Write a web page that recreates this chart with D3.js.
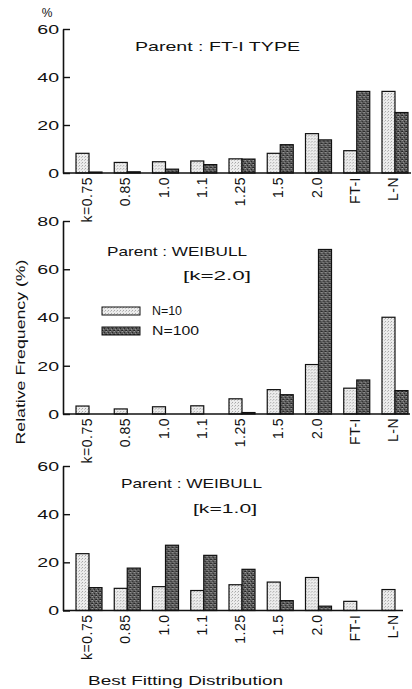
<!DOCTYPE html>
<html>
<head>
<meta charset="utf-8">
<script src="https://cdn.jsdelivr.net/npm/d3@7"></script>
<style>
  body { margin: 0; background: #fff; }
  svg text { font-family: "Liberation Sans", Arial, sans-serif; fill: #111; }
</style>
</head>
<body>
<script>
// chart data
const categories = ["k=0.75", "0.85", "1.0", "1.1", "1.25", "1.5", "2.0", "FT-I", "L-N"];
const seriesNames = ["N=10", "N=100"];
// ----------
// parent : FT-I type
const ftN10 = [8.2, 4.4, 4.7, 5.0, 5.9, 8.2, 16.4, 9.3, 34.0];
const ftN100 = [0.4, 0.5, 1.6, 3.5, 5.8, 11.8, 13.8, 34.0, 25.2];
// parent : weibull k=2.0
const wb2N10 = [3.3, 2.1, 3.0, 3.4, 6.3, 10.1, 20.5, 10.7, 40.1];
const wb2N100 = [0, 0, 0, 0, 0.6, 8.0, 68.2, 14.1, 9.7];
// parent : weibull k=1.0
const wb1N10 = [23.6, 9.2, 9.9, 8.3, 10.7, 11.8, 13.7, 3.8, 8.7];
const wb1N100 = [9.5, 17.6, 27.1, 22.9, 17.1, 4.1, 1.8, 0, 0];
// ----------
const ticks60 = [0, 20, 40, 60];
const ticks80 = [0, 20, 40, 60, 80];
// ----------

const w = 412;
const h = 689;
const axisX = 63;
const sx = 1.45; // scan is stretched sideways

const svg = d3
  .select("body")
  .append("svg")
  .attr("width", w)
  .attr("height", h);

// fill patterns (stippled greys)
const defs = svg.append("defs");

const light = defs
  .append("pattern")
  .attr("id", "light")
  .attr("patternUnits", "userSpaceOnUse")
  .attr("width", 3)
  .attr("height", 3);
light.append("rect").attr("width", 3).attr("height", 3).attr("fill", "#ececec");
light.append("rect").attr("x", 0).attr("y", 0).attr("width", 1).attr("height", 1).attr("fill", "#a8a8a8");
light.append("rect").attr("x", 2).attr("y", 1).attr("width", 1).attr("height", 1).attr("fill", "#c4c4c4");

const dark = defs
  .append("pattern")
  .attr("id", "dark")
  .attr("patternUnits", "userSpaceOnUse")
  .attr("width", 4)
  .attr("height", 4);
dark.append("rect").attr("width", 4).attr("height", 4).attr("fill", "#5c5c5c");
[[0, 0, "#9a9a9a"], [2, 1, "#2a2a2a"], [1, 2, "#8c8c8c"], [3, 3, "#333"], [3, 0, "#777"], [0, 3, "#222"]].forEach(
  ([x, y, c]) => {
    dark.append("rect").attr("x", x).attr("y", y).attr("width", 1).attr("height", 1).attr("fill", c);
  }
);
const fills = ["url(#light)", "url(#dark)"];
// ----------

// x scales (same for every panel)
const x0 = d3.scaleBand().domain(categories).range([76, 408]).paddingInner(0.32);
const x1 = d3.scaleBand().domain(seriesNames).range([0, x0.bandwidth()]);
// ----------

const panels = [
  {
    vals: [ftN10, ftN100],
    ticks: ticks60,
    y0: 173,
    yTop: 29,
    baseEnd: 411,
    titles: [{ t: "Parent : FT-I TYPE", x: 135, y: 51, len: 165 }],
  },
  {
    vals: [wb2N10, wb2N100],
    ticks: ticks80,
    y0: 414,
    yTop: 221,
    baseEnd: 410,
    titles: [
      { t: "Parent : WEIBULL", x: 107, y: 256, len: 140 },
      { t: "[k=2.0]", x: 183, y: 280, len: 68 },
    ],
  },
  {
    vals: [wb1N10, wb1N100],
    ticks: ticks60,
    y0: 610.5,
    yTop: 466,
    baseEnd: 403,
    titles: [
      { t: "Parent : WEIBULL", x: 121, y: 488, len: 141 },
      { t: "[k=1.0]", x: 193, y: 513, len: 64 },
    ],
  },
];

panels.forEach((p) => {
  const yMax = d3.max(p.ticks);
  const y = d3.scaleLinear().domain([0, yMax]).range([p.y0, p.yTop]);
  const g = svg.append("g");

  // bars
  const rows = categories.map((c, i) => ({ c, v: seriesNames.map((s, j) => ({ s, j, v: p.vals[j][i] })) }));
  g.selectAll("g.cat")
    .data(rows)
    .enter()
    .append("g")
    .attr("class", "cat")
    .attr("transform", (d) => `translate(${x0(d.c)},0)`)
    .selectAll("rect")
    .data((d) => d.v)
    .enter()
    .append("rect")
    .attr("x", (d) => x1(d.s))
    .attr("y", (d) => y(d.v))
    .attr("width", x1.bandwidth())
    .attr("height", (d) => p.y0 - y(d.v))
    .attr("fill", (d) => fills[d.j])
    .attr("stroke", "#111")
    .attr("stroke-width", 1.2);

  // baseline
  g.append("line")
    .attr("x1", axisX)
    .attr("x2", p.baseEnd)
    .attr("y1", p.y0)
    .attr("y2", p.y0)
    .attr("stroke", "#111")
    .attr("stroke-width", 1.6);

  // y axis, ticks pointing inward
  const ax = g
    .append("g")
    .attr("transform", `translate(${axisX},0)`)
    .call(d3.axisLeft(y).tickValues(p.ticks).tickSizeInner(-7).tickSizeOuter(0).tickPadding(4));
  ax.select(".domain").attr("stroke", "#111").attr("stroke-width", 1.6);
  ax.selectAll(".tick line").attr("stroke", "#111").attr("stroke-width", 1.4);
  ax.selectAll(".tick text")
    .attr("x", -4 / sx)
    .attr("transform", `scale(${sx},1)`)
    .attr("font-size", 13.5)
    .attr("font-family", "Liberation Sans, Arial, sans-serif")
    .attr("fill", "#111");

  // category labels (rotated)
  g.selectAll("text.cat")
    .data(categories)
    .enter()
    .append("text")
    .attr("class", "cat")
    .attr("transform", (d) => `translate(${x0(d) + x0.bandwidth() / 2 - 2},${p.y0 + 4}) rotate(-90)`)
    .attr("text-anchor", "end")
    .attr("dy", "0.36em")
    .attr("font-size", 14)
    .attr("letter-spacing", 0.5)
    .text((d) => d);

  // panel titles
  g.selectAll("text.title")
    .data(p.titles)
    .enter()
    .append("text")
    .attr("class", "title")
    .attr("x", (d) => d.x)
    .attr("y", (d) => d.y)
    .attr("font-size", 13)
    .attr("textLength", (d) => d.len)
    .attr("lengthAdjust", "spacingAndGlyphs")
    .text((d) => d.t);
});
// ----------

// "%" unit above top axis
svg.append("text").text("%").attr("x", 47).attr("y", 17).attr("text-anchor", "middle").attr("font-size", 12);

// legend
const legend = svg.append("g").attr("transform", "translate(102,307)");
legend
  .selectAll("rect")
  .data(seriesNames)
  .enter()
  .append("rect")
  .attr("y", (d, i) => i * 20)
  .attr("width", 38)
  .attr("height", 8)
  .attr("fill", (d, i) => fills[i])
  .attr("stroke", "#111")
  .attr("stroke-width", 1);
legend
  .selectAll("text")
  .data(seriesNames)
  .enter()
  .append("text")
  .attr("x", 50)
  .attr("y", (d, i) => i * 20 + 8)
  .attr("font-size", 12)
  .attr("textLength", (d, i) => (i === 0 ? 30 : 47))
  .attr("lengthAdjust", "spacingAndGlyphs")
  .text((d) => d);

// axis titles
svg
  .append("text")
  .text("Relative Frequency (%)")
  .attr("transform", "translate(25,352) rotate(-90)")
  .attr("text-anchor", "middle")
  .attr("font-size", 13)
  .attr("textLength", 185)
  .attr("lengthAdjust", "spacingAndGlyphs");

svg
  .append("text")
  .text("Best Fitting Distribution")
  .attr("x", 88)
  .attr("y", 685)
  .attr("font-size", 13)
  .attr("textLength", 195)
  .attr("lengthAdjust", "spacingAndGlyphs");
</script>
</body>
</html>
